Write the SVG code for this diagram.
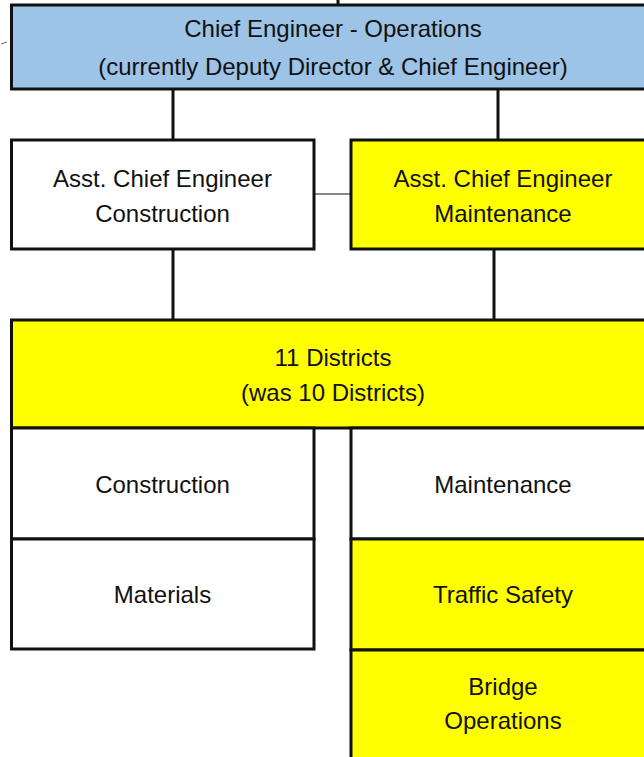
<svg xmlns="http://www.w3.org/2000/svg" width="644" height="757" viewBox="0 0 644 757">
<style>
.box{stroke:#111;stroke-width:3}
.blue{fill:#9DC3E6}
.yellow{fill:#FFFF00}
.white{fill:#FFFFFF}
.lbl{font-family:"Liberation Sans",Arial,sans-serif;font-size:24px;fill:#111;text-anchor:middle}
.conn{stroke:#111;stroke-width:3;fill:none}
.gray{stroke:#888;stroke-width:2;fill:none}
</style>
<rect x="0" y="0" width="644" height="757" fill="#FFFFFF"/>
<g id="connectors">
<line class="conn" x1="338" y1="0" x2="338" y2="5"/>
<line class="conn" x1="173" y1="89" x2="173" y2="140"/>
<line class="conn" x1="498" y1="89" x2="498" y2="140"/>
<line class="gray" x1="314" y1="194" x2="351" y2="194"/>
<line class="conn" x1="173" y1="249" x2="173" y2="320"/>
<line class="conn" x1="494" y1="249" x2="494" y2="320"/>
<line stroke="#666" stroke-width="1" x1="1" y1="44" x2="7" y2="42"/>
</g>
<g id="chief">
<rect class="box blue" x="11.5" y="5" width="660" height="84"/>
<text class="lbl" x="333" y="37">Chief Engineer - Operations</text>
<text class="lbl" x="333" y="75">(currently Deputy Director &amp; Chief Engineer)</text>
</g>
<g id="asst-construction">
<rect class="box white" x="11.5" y="140" width="302.5" height="109"/>
<text class="lbl" x="162.5" y="187">Asst. Chief Engineer</text>
<text class="lbl" x="162.5" y="222">Construction</text>
</g>
<g id="asst-maintenance">
<rect class="box yellow" x="351" y="140" width="320" height="109"/>
<text class="lbl" x="503" y="187">Asst. Chief Engineer</text>
<text class="lbl" x="503" y="222">Maintenance</text>
</g>
<g id="districts">
<rect class="box yellow" x="11.5" y="320" width="660" height="108"/>
<text class="lbl" x="333" y="366">11 Districts</text>
<text class="lbl" x="333" y="401">(was 10 Districts)</text>
</g>
<g id="construction">
<rect class="box white" x="11.5" y="428" width="302.5" height="111"/>
<text class="lbl" x="162.5" y="493">Construction</text>
</g>
<g id="materials">
<rect class="box white" x="11.5" y="539" width="302.5" height="110"/>
<text class="lbl" x="162.5" y="603">Materials</text>
</g>
<g id="maintenance">
<rect class="box white" x="351" y="428" width="320" height="111"/>
<text class="lbl" x="503" y="493">Maintenance</text>
</g>
<g id="traffic-safety">
<rect class="box yellow" x="351" y="539" width="320" height="111"/>
<text class="lbl" x="503" y="603">Traffic Safety</text>
</g>
<g id="bridge-operations">
<rect class="box yellow" x="351" y="650" width="320" height="120"/>
<text class="lbl" x="503" y="695">Bridge</text>
<text class="lbl" x="503" y="729">Operations</text>
</g>
</svg>
